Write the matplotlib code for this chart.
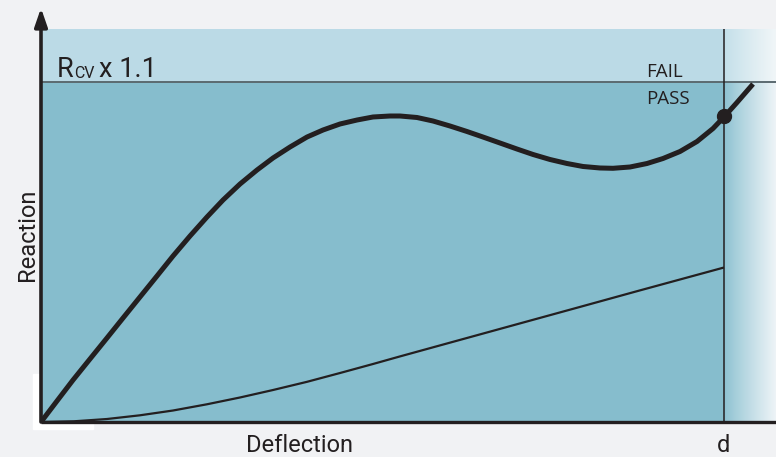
import numpy as np
import matplotlib
matplotlib.use('Agg')
import matplotlib.pyplot as plt
from matplotlib.colors import to_rgb
from matplotlib.patches import Rectangle

# ---- data (deflection normalised so that d = 1, reaction so that Rcv x 1.1 = 1) ----
deflection = [0.0, 0.0234, 0.0469, 0.0717, 0.0966, 0.1201, 0.1449, 0.1698, 0.1933, 0.2182,
              0.2430, 0.2665, 0.2914, 0.3163, 0.3397, 0.3646, 0.3895, 0.4129, 0.4378, 0.4627,
              0.4861, 0.5110, 0.5256, 0.5505, 0.5739, 0.5988, 0.6237, 0.6471, 0.6720, 0.6969,
              0.7204, 0.7452, 0.7701, 0.7936, 0.8184, 0.8375, 0.8624, 0.8873, 0.9107, 0.9356,
              0.9605, 0.9839, 1.0, 1.0190, 1.0425]
reaction = [0.0, 0.0618, 0.1235, 0.1853, 0.2471, 0.3059, 0.3676, 0.4294, 0.4882, 0.5471,
            0.6029, 0.6529, 0.7000, 0.7412, 0.7765, 0.8088, 0.8382, 0.8588, 0.8765, 0.8882,
            0.8971, 0.9000, 0.9000, 0.8956, 0.8853, 0.8706, 0.8544, 0.8382, 0.8206, 0.8029,
            0.7868, 0.7721, 0.7603, 0.7515, 0.7471, 0.7462, 0.7500, 0.7603, 0.7750, 0.7956,
            0.8250, 0.8632, 0.8971, 0.9397, 0.9941]
lin_deflection = [0.0, 0.0483, 0.0966, 0.1449, 0.1933, 0.2430, 0.2914, 0.3397, 0.3895,
                  0.4378, 0.4861, 0.5256, 0.6135, 0.7013, 0.7892, 0.8726, 1.0]
lin_reaction = [0.0, 0.0021, 0.0088, 0.0197, 0.0338, 0.0521, 0.0721, 0.0941, 0.1182,
                0.1441, 0.1706, 0.1929, 0.2415, 0.2900, 0.3385, 0.3847, 0.4544]
limit_level = 1.0       # Rcv x 1.1
d_value = 1.0
point_reaction = 0.900
x_label = "Deflection"
y_label = "Reaction"
d_label = "d"
limit_text = ("R", "CV", "x 1.1")
fail_text, pass_text = "FAIL", "PASS"

W, H = 776, 457
BG = '#f1f2f4'
INK = '#231f20'
LOW = '#86bdcd'
UP = '#bbdae6'
FONT = ['Roboto', 'DejaVu Sans']
FONT2 = ['Open Sans', 'DejaVu Sans']

fig = plt.figure(figsize=(W / 100, H / 100), dpi=100, facecolor=BG)

def fx(px):
    return px / W

def fy(py):
    return 1 - py / H

fig.patches.append(Rectangle((fx(33), fy(429)), (93 - 33) / W, (429 - 374) / H,
                             transform=fig.transFigure, color='white', zorder=-5))

ax = fig.add_axes([fx(41), fy(422), (776 - 41) / W, (422 - 29) / H])
ax.set_zorder(1)
x_max = 735 / 683
y_max = 393 / 340
ax.set_facecolor(LOW)
ax.axhspan(limit_level, y_max, color=UP, lw=0, zorder=0)

def grad(c0, c1, n=200, gamma=1.0):
    t = np.linspace(0, 1, n) ** gamma
    a, b = np.array(to_rgb(c0)), np.array(to_rgb(c1))
    return (a[None, :] * (1 - t[:, None]) + b[None, :] * t[:, None])[None, :, :]

ax.imshow(grad('#8cc1d1', '#eef4f7', gamma=0.9), extent=[d_value, x_max, 0, limit_level],
          aspect='auto', interpolation='bilinear', zorder=0.5)
ax.imshow(grad('#c2dfe9', '#f1f6f8', gamma=0.9), extent=[d_value, x_max, limit_level, y_max],
          aspect='auto', interpolation='bilinear', zorder=0.5)

ax.set_xlim(0, x_max)
ax.set_ylim(0, y_max)
for s in ax.spines.values():
    s.set_visible(False)
ax.set_xticks([])
ax.set_yticks([])

# limit line & d line
ax.axhline(limit_level, color='#5b6a70', lw=1.4, zorder=2)
ax.plot([d_value, d_value], [0, y_max], color=INK, lw=1.1, zorder=2)

# curves
ax.plot(lin_deflection, lin_reaction, color=INK, lw=1.6, zorder=3, solid_capstyle='butt',
        solid_joinstyle='round')
ax.plot(deflection, reaction, color=INK, lw=3.6, zorder=4, solid_joinstyle='round',
        solid_capstyle='butt')
ax.plot([d_value], [point_reaction], 'o', color=INK, ms=10, zorder=5)

# axes lines
ax.plot([0, x_max], [0, 0], color=INK, lw=2.4, zorder=6, clip_on=False, solid_capstyle='butt')
ax.annotate('', xy=(0, 414 / 340), xytext=(0, 0), annotation_clip=False,
            arrowprops=dict(arrowstyle='-|>,head_length=1.1,head_width=0.38',
                            lw=2.6, color=INK, shrinkA=0, shrinkB=0), zorder=6)

# texts
fig.text(fx(57), fy(77), limit_text[0], fontsize=19.5, family=FONT, color=INK, va='baseline')
fig.text(fx(74), fy(78), limit_text[1], fontsize=11.5, family=FONT, color=INK, va='baseline')
fig.text(fx(99), fy(77), limit_text[2], fontsize=19.5, family=FONT, color=INK, va='baseline')
fig.text(fx(646), fy(77), fail_text, fontsize=13.5, family=FONT2, color=INK, va='baseline')
fig.text(fx(646), fy(104), pass_text, fontsize=13.5, family=FONT2, color=INK, va='baseline')
fig.text(fx(300), fy(452), x_label, fontsize=17, family=FONT, color=INK, va='baseline', ha='center')
fig.text(fx(724), fy(452), d_label, fontsize=17, family=FONT, color=INK, va='baseline', ha='center')
fig.text(fx(34), fy(235), y_label, fontsize=17, family=FONT, color=INK, va='baseline',
         ha='center', rotation=90, rotation_mode='anchor')

fig.savefig('out.png', dpi=100, facecolor=BG)
